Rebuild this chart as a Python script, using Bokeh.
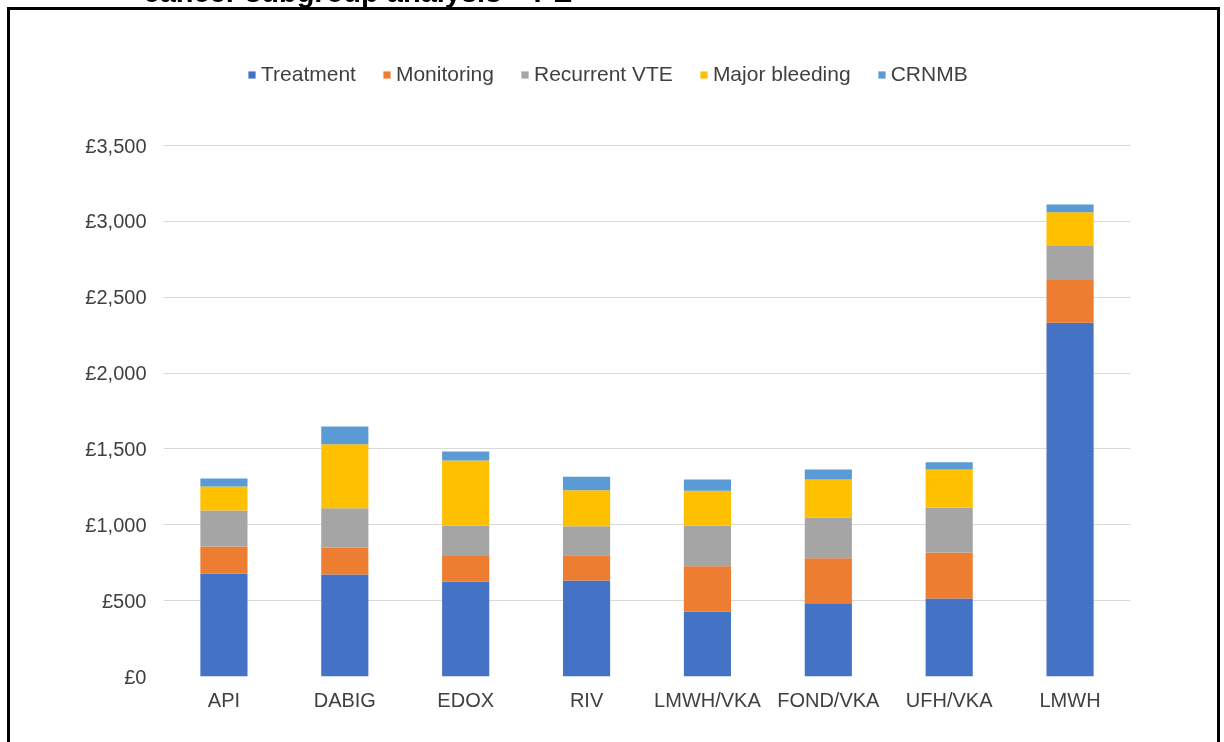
from bokeh.plotting import figure
from bokeh.models import (ColumnDataSource, FactorRange, Range1d, FixedTicker,
                          Legend, LegendItem, Title)
from bokeh.embed import file_html
from bokeh.resources import INLINE

categories = ["API", "DABIG", "EDOX", "RIV", "LMWH/VKA", "FOND/VKA", "UFH/VKA", "LMWH"]
treatment = [679, 672, 626, 633, 428, 483, 514, 2331]
monitoring = [178, 178, 169, 166, 299, 297, 303, 283]
recurrent_vte = [237, 259, 200, 191, 268, 268, 297, 224]
major_bleeding = [158, 422, 429, 238, 229, 250, 250, 222]
crnmb = [53, 117, 59, 88, 74, 66, 48, 51]

series_names = ["Treatment", "Monitoring", "Recurrent VTE", "Major bleeding", "CRNMB"]
series_keys = ["treatment", "monitoring", "recurrent_vte", "major_bleeding", "crnmb"]
colors = ["#4472C4", "#ED7D31", "#A5A5A5", "#FFC000", "#5B9BD5"]

y_ticks = [0, 500, 1000, 1500, 2000, 2500, 3000, 3500]
y_tick_labels = ["£0", "£500", "£1,000", "£1,500", "£2,000", "£2,500", "£3,000", "£3,500"]

title_fragment = "cancer subgroup analysis – PE"

FONT = "Liberation Sans"
TXT = "#404040"

source = ColumnDataSource(dict(cat=categories, treatment=treatment, monitoring=monitoring,
                               recurrent_vte=recurrent_vte, major_bleeding=major_bleeding,
                               crnmb=crnmb))

SHIFT = 43           # how far the canvas is pushed above the window (title is cut off)
FRAME_TOP = 50       # canvas px
FRAME_BOTTOM = 676   # window px
TOP_TICK = 145       # window px of the 3,500 tick
H = 800
frame_top_win = FRAME_TOP - SHIFT
y_end = y_ticks[-1] * (FRAME_BOTTOM - frame_top_win) / (FRAME_BOTTOM - TOP_TICK)

p = figure(width=1227, height=H, x_range=FactorRange(*categories, range_padding=0),
           y_range=Range1d(0, y_end), output_backend="svg", toolbar_location=None,
           min_border_left=163, min_border_right=97, min_border_top=FRAME_TOP,
           min_border_bottom=H - (FRAME_BOTTOM + SHIFT))
p.background_fill_color = None
p.border_fill_color = None
top_line = SHIFT + 7
p.styles = {
    "position": "fixed", "top": f"{-SHIFT}px", "left": "0px",
    "background-image": "linear-gradient(#000,#000), linear-gradient(#000,#000), linear-gradient(#000,#000)",
    "background-size": "1213px 3px, 3px 2000px, 3px 2000px",
    "background-position": f"7px {top_line}px, 7px {top_line}px, 1217px {top_line}px",
    "background-repeat": "no-repeat",
}

t = Title(text=title_fragment, align="left", offset=-20, standoff=0,
          text_font=FONT, text_font_style="bold", text_font_size="29px", text_color="black")
p.add_layout(t, "above")

renderers = p.vbar_stack(series_keys, x="cat", width=0.39, color=colors, line_color=None,
                         source=source)

p.outline_line_color = None
p.xgrid.grid_line_color = None
p.ygrid.grid_line_color = "#D9D9D9"
p.ygrid.grid_line_width = 1

p.yaxis.ticker = FixedTicker(ticks=y_ticks)
p.yaxis.major_label_overrides = {tk: lb for tk, lb in zip(y_ticks, y_tick_labels)}
for ax in (p.xaxis[0], p.yaxis[0]):
    ax.axis_line_color = None
    ax.major_tick_line_color = None
    ax.minor_tick_line_color = None
    ax.major_tick_out = 0
    ax.major_tick_in = 0
    ax.major_label_text_font = FONT
    ax.major_label_text_font_size = "20px"
    ax.major_label_text_color = TXT
p.yaxis.major_label_standoff = 17
p.xaxis.major_label_standoff = 12

items = [LegendItem(label=n, renderers=[r]) for n, r in zip(series_names, renderers)]
legend = Legend(items=items, orientation="horizontal", location=(84, FRAME_BOTTOM - 86),
                glyph_width=9, glyph_height=9, label_standoff=5, spacing=26,
                padding=0, margin=0, border_line_color=None, background_fill_alpha=0,
                label_text_font=FONT, label_text_font_size="21px", label_text_color=TXT,
                label_height=20)
p.add_layout(legend, "center")

open("out.html", "w").write(file_html(p, INLINE))
